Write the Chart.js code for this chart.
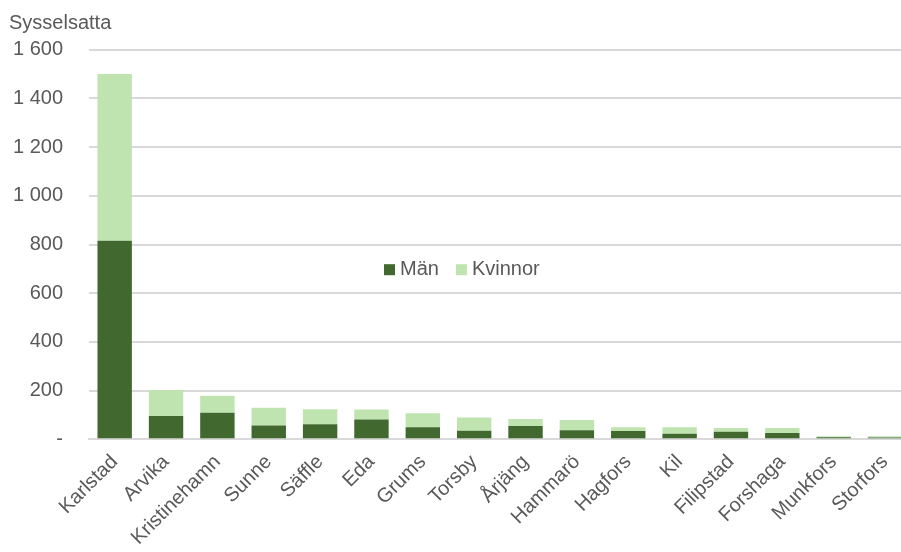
<!DOCTYPE html>
<html lang="sv">
<head>
<meta charset="utf-8">
<title>Sysselsatta per kommun</title>
<script src="https://cdn.jsdelivr.net/npm/chart.js@4.4.1/dist/chart.umd.min.js"></script>
<style>
  html, body { margin: 0; padding: 0; background: #ffffff; overflow: hidden; }
  #wrap { position: relative; width: 913px; height: 552px; }
</style>
</head>
<body>
<div id="wrap"><canvas id="chart"></canvas></div>
<script>
// Kommuner (kategorier)
const kommuner = ['Karlstad', 'Arvika', 'Kristinehamn', 'Sunne', 'Säffle', 'Eda', 'Grums', 'Torsby',
  'Årjäng', 'Hammarö', 'Hagfors', 'Kil', 'Filipstad', 'Forshaga', 'Munkfors', 'Storfors'];

// Sysselsatta män per kommun
const man = [815, 96, 109, 57, 62, 81, 49, 35, 55, 37, 34, 23, 31, 26, 8, 7];

// Sysselsatta kvinnor per kommun
const kvinnor = [685, 106, 70, 73, 61, 41, 58, 55, 28, 42, 16, 27, 15, 20, 5, 6];

// Y-axelns skalsteg
const yTicks = [0, 200, 400, 600, 800, 1000, 1200, 1400, 1600];

const axelTitel = 'Sysselsatta';
const serieNamn = ['Män', 'Kvinnor'];

const FONT = '"Liberation Sans", Arial, sans-serif';
const TEXT = '#595959';
const GRID = '#d9d9d9';
const FARGER = ['#41692f', '#bfe4b0'];

function formatTal(v) {
  if (v === 0) return '-';
  return String(v).replace(/\B(?=(\d{3})+(?!\d))/g, ' ');
}

// Axeltitel ovanför y-axeln samt förklaring inne i diagramytan
const extraText = {
  id: 'extraText',
  afterDraw(chart) {
    const ctx = chart.ctx;
    const a = chart.chartArea;
    ctx.save();
    ctx.fillStyle = TEXT;
    ctx.font = '20px ' + FONT;
    ctx.textBaseline = 'middle';
    ctx.textAlign = 'left';
    ctx.fillText(axelTitel, 9, 23);

    // förklaring
    let x = a.left + 295;
    const y = a.top + 220;
    chart.data.datasets.forEach((ds) => {
      ctx.fillStyle = ds.backgroundColor;
      ctx.fillRect(x, y - 5.5, 11, 11);
      ctx.fillStyle = TEXT;
      ctx.fillText(ds.label, x + 16, y);
      x += 16 + ctx.measureText(ds.label).width + 17;
    });
    ctx.restore();
  }
};

new Chart(document.getElementById('chart'), {
  type: 'bar',
  data: {
    labels: kommuner,
    datasets: [
      { label: serieNamn[0], data: man, backgroundColor: FARGER[0] },
      { label: serieNamn[1], data: kvinnor, backgroundColor: FARGER[1] }
    ]
  },
  options: {
    responsive: true,
    maintainAspectRatio: false,
    animation: false,
    layout: { padding: { top: 49.7, right: 0, left: 0, bottom: 0 } },
    datasets: { bar: { categoryPercentage: 0.67, barPercentage: 1.0 } },
    plugins: {
      legend: { display: false },
      title: { display: false },
      tooltip: { enabled: false }
    },
    scales: {
      x: {
        stacked: true,
        grid: { display: false, drawTicks: false },
        border: { display: true, color: GRID, width: 2 },
        ticks: {
          autoSkip: false,
          minRotation: 45,
          maxRotation: 45,
          padding: 11,
          color: TEXT,
          font: { family: FONT, size: 20 }
        },
        afterFit(scale) { scale.height = 112.7; }
      },
      y: {
        stacked: true,
        min: 0,
        max: 1600,
        afterBuildTicks(scale) { scale.ticks = yTicks.map(v => ({ value: v })); },
        grid: { color: GRID, lineWidth: 2, drawTicks: false },
        border: { display: false },
        ticks: {
          padding: 26,
          color: TEXT,
          font: { family: FONT, size: 20 },
          callback: (v) => formatTal(v)
        },
        afterFit(scale) { scale.width = 89; }
      }
    }
  },
  plugins: [extraText]
});
</script>
</body>
</html>
